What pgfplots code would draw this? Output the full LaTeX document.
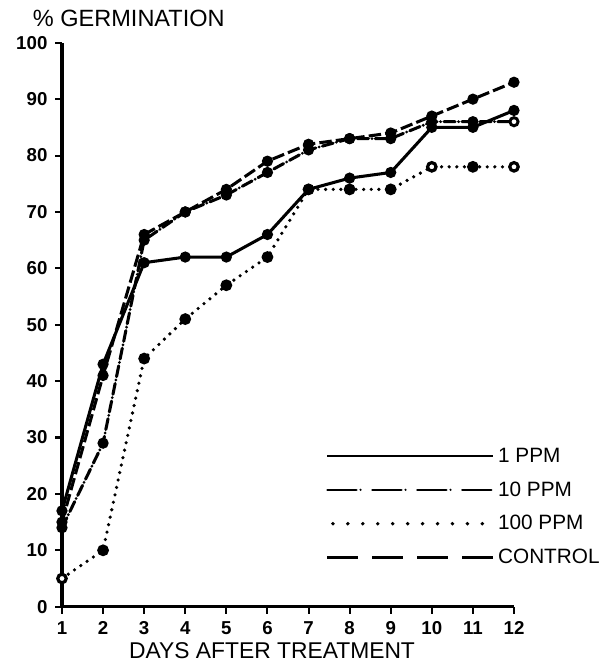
\documentclass[border=0pt]{standalone}
\usepackage{fontspec}
\setmainfont{Liberation Sans}
\usepackage{pgfplots}
\pgfplotsset{compat=1.18}
\begin{document}
\begin{tikzpicture}
\path[use as bounding box] (-44.8pt,-44.3pt) rectangle (395.4pt,438.5pt);
\begin{axis}[
  at={(0,0)}, anchor=south west,
  width=326.7pt, height=407.6pt, scale only axis,
  xmin=1, xmax=12, ymin=0, ymax=100,
  axis x line*=bottom, axis y line*=left,
  axis line style={line width=2.2pt, -},
  xtick={1,...,12}, ytick={0,10,...,100},
  tick align=outside, major tick length=5pt,
  tick style={line width=1.5pt, black},
  /pgf/number format/assume math mode=true,
  ticklabel style={font=\bfseries\fontsize{13.5}{13.5}\selectfont},
  yticklabel style={xshift=-2pt},
  xticklabel style={yshift=-2pt},
  clip=false,
  legend style={at={(axis cs:7.42,28.7)}, anchor=north west, draw=none, fill=none,
    inner sep=0pt, row sep=8.5pt, font=\fontsize{15}{15}\selectfont,
    /tikz/every even column/.append style={column sep=7pt}},
  legend cell align=left,
  every axis plot/.append style={line width=2.2pt, mark size=2.9pt,
     mark options={solid, fill=black}},
]
% 1 PPM
\addplot[black, solid, mark=*,
  legend image code/.code={\draw[black, line width=1.9pt] (0pt,0pt) -- (120pt,0pt);}]
  coordinates {(1,17)(2,43)(3,61)(4,62)(5,62)(6,66)(7,74)(8,76)(9,77)(10,85)(11,85)(12,88)};
\addlegendentry{1 PPM}
% 10 PPM
\addplot[black, dash pattern=on 8pt off 2.5pt on 0pt off 2.5pt, line cap=round, mark=*,
  legend image code/.code={\draw[black, line width=1.7pt, line cap=round, dash pattern=on 21pt off 3pt on 0pt off 8.5pt] (0pt,0pt) -- (120pt,0pt);}]
  coordinates {(1,14)(2,29)(3,65)(4,70)(5,73)(6,77)(7,81)(8,83)(9,83)(10,86)(11,86)(12,86)};
\addlegendentry{10 PPM}
% 100 PPM
\addplot[black, line width=2.6pt, line cap=round, dash pattern=on 0pt off 5.5pt, mark=*,
  legend image code/.code={\draw[black, line width=2.8pt, line cap=round, dash pattern=on 0pt off 10.8pt] (4pt,0pt) -- (120pt,0pt);}]
  coordinates {(1,5)(2,10)(3,44)(4,51)(5,57)(6,62)(7,74)(8,74)(9,74)(10,78)(11,78)(12,78)};
\addlegendentry{100 PPM}
% CONTROL
\addplot[black, dash pattern=on 9pt off 3pt, mark=*,
  legend image code/.code={\draw[black, line width=1.9pt, dash pattern=on 22.4pt off 10.1pt] (0pt,0pt) -- (120pt,0pt);}]
  coordinates {(1,15)(2,41)(3,66)(4,70)(5,74)(6,79)(7,82)(8,83)(9,84)(10,87)(11,90)(12,93)};
\addlegendentry{CONTROL}
% open-circle points
\addplot[only marks, mark=*, mark size=2.4pt, mark options={solid, fill=white, draw=black, line width=1.1pt}, forget plot]
  coordinates {(1,5)(10,78)(12,78)(12,86)};
\node[anchor=west, font=\fontsize{17}{17}\selectfont] at (rel axis cs:0,1) [xshift=-24.5pt, yshift=17.8pt] {\% GERMINATION};
\node[font=\fontsize{16.5}{16.5}\selectfont] at (rel axis cs:0,0) [xshift=151.8pt, yshift=-32pt] {DAYS AFTER TREATMENT};
\end{axis}
\end{tikzpicture}
\end{document}
